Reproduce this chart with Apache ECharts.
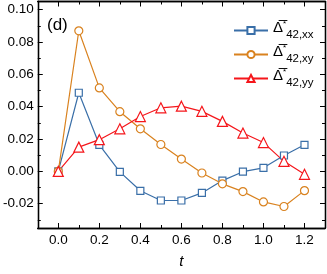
<!DOCTYPE html>
<html><head><meta charset="utf-8">
<script src="https://cdn.jsdelivr.net/npm/echarts@6/dist/echarts.min.js"></script>
<style>html,body{margin:0;padding:0;background:#fff}#c{width:327px;height:274px}</style>
</head><body><div id="c"></div>
<script>
const t = [0.0, 0.1, 0.2, 0.3, 0.4, 0.5, 0.6, 0.7, 0.8, 0.9, 1.0, 1.1, 1.2];
const xx = [0, 0.0486, 0.0164, -0.0003, -0.012, -0.018, -0.018, -0.0133, -0.0057, -0.0002, 0.0022, 0.0098, 0.0164];
const xy = [0, 0.0869, 0.0516, 0.0369, 0.0263, 0.0166, 0.0076, -0.001, -0.0077, -0.0125, -0.0189, -0.0217, -0.0119];
const yy = [0, 0.015, 0.0196, 0.0263, 0.0339, 0.0393, 0.0403, 0.0371, 0.0309, 0.0237, 0.0178, 0.0062, -0.0018];
const xMajor = [0, 0.2, 0.4, 0.6, 0.8, 1.0, 1.2];
const xMinor = [-0.1, 0.1, 0.3, 0.5, 0.7, 0.9, 1.1, 1.3];
const yMajor = [-0.02, 0.00, 0.02, 0.04, 0.06, 0.08, 0.10];
const yMinor = [-0.03, -0.01, 0.01, 0.03, 0.05, 0.07, 0.09];
const names = ['xx', 'xy', 'yy'];

const FONT = 'Liberation Sans';
const XMIN = -0.1, XMAX = 1.3, YMIN = -0.035, YMAX = 0.105;
const axisLine = {show: true, onZero: false, lineStyle: {color: '#000', width: 1.3}};

function xa(pos, vals, len, labels) {
  return {type: 'value', min: XMIN, max: XMAX, position: pos, splitLine: {show: false},
    axisLine: axisLine,
    axisTick: {show: true, inside: true, length: len, customValues: vals, lineStyle: {color: '#000', width: 1}},
    axisLabel: labels ? {show: true, customValues: xMajor, fontFamily: FONT, fontSize: 13.5, color: '#000', margin: 5,
      formatter: v => v.toFixed(1)} : {show: false}};
}
function ya(pos, vals, len, labels) {
  return {type: 'value', min: YMIN, max: YMAX, position: pos, splitLine: {show: false},
    axisLine: axisLine,
    axisTick: {show: true, inside: true, length: len, customValues: vals, lineStyle: {color: '#000', width: 1}},
    axisLabel: labels ? {show: true, customValues: yMajor, fontFamily: FONT, fontSize: 13.5, color: '#000', margin: 4,
      formatter: v => v.toFixed(2)} : {show: false}};
}

const xAxes = [xa('bottom', xMajor, 5, true), xa('bottom', xMinor, 3, false), xa('top', xMajor, 5, false), xa('top', xMinor, 3, false)];
xAxes[0].name = 't';
xAxes[0].nameLocation = 'middle';
xAxes[0].nameGap = 26;
xAxes[0].nameTextStyle = {fontFamily: FONT, fontSize: 15, fontStyle: 'italic', color: '#000'};
const yAxes = [ya('left', yMajor, 5, true), ya('left', yMinor, 3, false), ya('right', yMajor, 5, false), ya('right', yMinor, 3, false)];

function mk(name, data, color, symbol, size) {
  return {name: name, type: 'line', data: t.map((v, i) => [v, data[i]]), xAxisIndex: 0, yAxisIndex: 0,
    symbol: symbol, symbolSize: size, showAllSymbol: true,
    lineStyle: {width: 1.2, color: color}, itemStyle: {color: '#ffffff', borderColor: color, borderWidth: 1.2}, animation: false};
}

const chart = echarts.init(document.getElementById('c'), null, {renderer: 'canvas'});
chart.setOption({
  backgroundColor: '#fff',
  animation: false,
  grid: {left: 37.5, right: 2, top: 1.5, bottom: 40, containLabel: false},
  xAxis: xAxes,
  yAxis: yAxes,
  graphic: [{type: 'text', left: 47, top: 17, style: {text: '(d)', font: '17px "Liberation Sans"', fill: '#000'}}],
  legend: {
    orient: 'vertical', left: 228, top: 15, itemWidth: 34, itemHeight: 9, itemGap: 3,
    data: names,
    formatter: n => '{d|Δ̅}{s|*}{sub|42,' + n + '}',
    textStyle: {
      color: '#000', fontFamily: FONT,
      rich: {
        d: {fontSize: 15, fontFamily: FONT, color: '#000', lineHeight: 21, verticalAlign: 'top'},
        s: {fontSize: 8, fontFamily: FONT, color: '#000', verticalAlign: 'top', lineHeight: 10},
        sub: {fontSize: 11.5, fontFamily: FONT, color: '#000', verticalAlign: 'bottom', lineHeight: 13}
      }
    }
  },
  series: [
    mk('xx', xx, '#3a6fa8', 'rect', 7),
    mk('xy', xy, '#d9821f', 'circle', 8),
    mk('yy', yy, '#f5161b', 'triangle', 10)
  ]
});
</script></body></html>
